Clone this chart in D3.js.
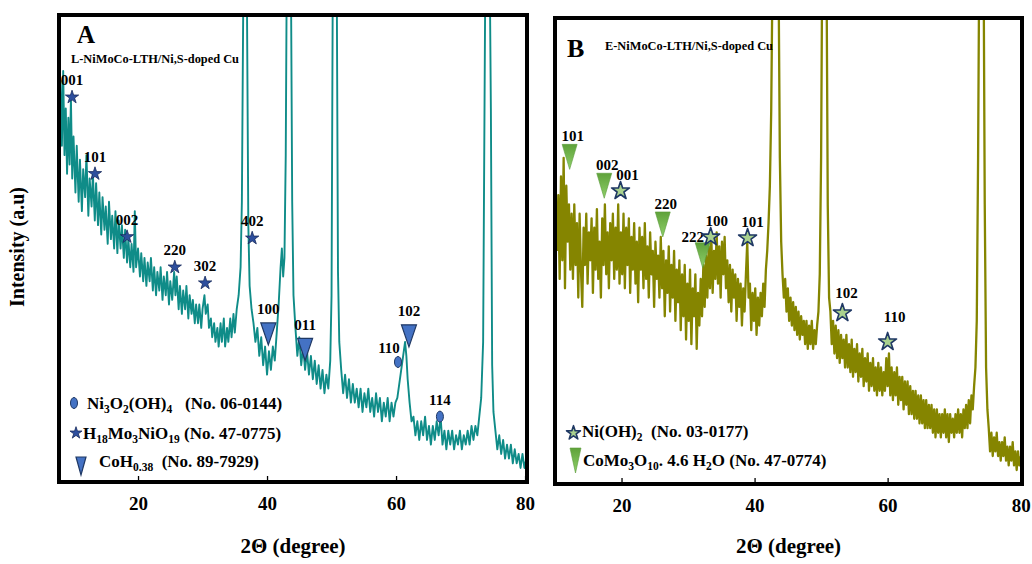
<!DOCTYPE html>
<html>
<head>
<meta charset="utf-8">
<script src="https://cdn.jsdelivr.net/npm/d3@7"></script>
<style>
  body { margin: 0; background: #fff; }
  svg { display: block; font-family: "Liberation Serif", "Times New Roman", serif; font-weight: bold; }
</style>
</head>
<body>
<svg id="chart" width="1032" height="564"></svg>
<script>
// XRD pattern A: [2theta, intensity (a.u.)]
const patternA = [
  [8.0,86],[8.2,72],[8.4,88],[8.6,70],[8.8,80],[9.0,66],[9.2,78],[9.4,68],[9.6,82],[9.8,65],[10.0,74],
  [10.3,62],[10.5,72],[10.8,60],[11.0,69],[11.3,58],[11.5,67],[11.8,61],[12.0,70],[12.3,57],[12.5,65],[12.8,59],
  [13.0,66],[13.3,56],[13.5,64],[13.8,55],[14.0,62],[14.3,53],[14.5,61],[14.8,54],[15.0,59],[15.3,51],[15.5,60],
  [15.8,52],[16.0,57],[16.3,50],[16.5,58],[16.8,49],[17.0,56],[17.3,50],[17.5,55],[17.8,48],
  [18.0,54],[18.3,47],[18.5,52],[18.8,46],[19.0,51],[19.3,45],[19.5,58],[19.7,46],[20.0,50],[20.3,44],[20.5,49],
  [20.8,43],[21.0,48],[21.3,42],[21.5,47],[21.8,43],[22.0,48],[22.3,41],[22.5,46],[22.8,40],[23.0,45],[23.3,41],
  [23.5,46],[23.8,39],[24.0,44],[24.3,40],[24.5,45],[24.8,38],
  [25.0,43],[25.3,39],[25.6,45],[25.8,40],[26.0,44],[26.3,37],[26.5,42],[26.8,36],[27.0,41],[27.3,37],[27.5,42],
  [27.8,35],[28.0,40],[28.3,36],[28.5,39],[28.8,34],[29.0,38],[29.3,34],[29.5,38],[29.8,33],[30.0,37],[30.3,40],
  [30.5,36],[30.8,38],[31.0,33],
  [31.3,35],[31.5,31],[31.8,34],[32.0,30],[32.3,33],[32.5,29],[32.8,34],[33.0,30],[33.3,35],[33.5,29],[33.8,33],
  [34.0,30],[34.3,35],[34.5,31],[34.8,36],[35.0,32],[35.3,37],
  [35.6,40],[35.9,46],[36.1,60],[36.3,100],[36.5,130],[36.7,130],[36.9,100],[37.1,55],[37.3,42],[37.6,37],
  [37.9,34],[38.2,30],[38.5,33],[38.8,27],[39.1,31],[39.4,25],[39.7,29],[40.0,23],[40.3,28],[40.6,24],[40.9,29],
  [41.2,26],[41.5,32],[41.8,38],[42.1,46],[42.3,50],[42.5,44],[42.7,48],[42.9,70],[43.1,120],[43.4,130],[43.7,110],
  [43.9,60],[44.1,40],
  [44.4,33],[44.7,27],[45.0,31],[45.3,25],[45.6,29],[45.9,24],[46.2,28],[46.5,23],[46.8,27],[47.1,22],[47.4,26],
  [47.7,21],[48.0,25],[48.3,20],[48.6,24],[48.9,19],[49.2,23],[49.5,20],[49.8,26],[50.0,40],[50.2,110],[50.5,130],
  [50.8,110],[51.0,45],[51.2,30],
  [51.5,24],[51.8,19],[52.1,23],[52.4,18],[52.7,22],[53.0,17],[53.3,21],[53.6,17],[53.9,20],[54.2,16],[54.5,20],
  [54.8,15],[55.1,19],[55.4,16],[55.7,20],[56.0,15],[56.3,18],[56.6,14],[56.9,19],[57.2,15],[57.5,18],[57.8,13],
  [58.1,17],[58.4,14],[58.7,18],[59.0,13],[59.3,17],[59.6,14],
  [59.9,17],[60.2,18],[60.5,21],[60.8,24],[61.1,27],[61.4,30],[61.6,27],[61.8,22],[62.1,17],[62.4,13],
  [62.7,14],[63.0,10],[63.3,13],[63.6,9],[63.9,13],[64.2,10],[64.5,14],[64.8,9],[65.1,12],[65.4,8],[65.7,12],
  [66.0,9],[66.3,13],[66.6,10],[66.9,14],[67.2,8],[67.5,11],[67.8,7],[68.1,11],[68.4,8],[68.7,11],[69.0,7],
  [69.3,10],[69.6,8],[69.9,11],[70.2,7],[70.5,10],[70.8,8],[71.1,11],[71.4,8],[71.7,12],[72.0,9],[72.3,12],
  [72.6,10],[72.9,14],[73.2,18],[73.5,30],[73.8,100],[74.1,130],[74.4,130],[74.7,80],[74.9,25],[75.1,15],
  [75.4,11],[75.7,7],[76.0,10],[76.3,6],[76.6,9],[76.9,5],[77.2,8],[77.5,5],[77.8,8],[78.1,4],[78.4,7],
  [78.7,4],[79.0,6],[79.3,3],[79.6,6],[79.9,3],[80.2,5]
];

// XRD pattern B: [2theta, intensity (a.u.)]
const patternB = [
  [10.3,50],[10.5,62],[10.7,44],[10.9,66],[11.1,48],[11.3,70],[11.5,42],[11.7,64],[11.9,52],[12.1,60],[12.3,46],
  [12.5,58],[12.7,44],[12.9,60],[13.1,47],[13.3,56],[13.5,40],[13.7,58],[13.9,46],[14.1,38],[14.3,55],[14.5,47],
  [14.7,58],[14.9,43],[15.1,54],[15.3,48],[15.5,57],[15.7,41],[15.9,55],[16.1,46],[16.3,59],[16.5,44],[16.7,52],
  [16.9,40],[17.1,57],[17.3,47],[17.5,60],[17.7,45],[17.9,54],[18.1,42],[18.3,56],[18.5,48],[18.7,58],[18.9,44],
  [19.1,55],[19.3,46],[19.5,60],[19.7,43],
  [19.9,54],[20.1,45],[20.3,58],[20.5,42],[20.7,55],[20.9,47],[21.1,57],[21.3,41],[21.5,53],[21.7,46],[21.9,56],
  [22.1,43],[22.3,52],[22.5,39],[22.7,55],[22.9,46],[23.1,53],[23.3,42],[23.5,56],[23.7,44],[23.9,51],[24.1,40],
  [24.3,54],[24.5,45],[24.7,50],[24.9,38],[25.1,52],[25.3,44],[25.5,49],[25.7,40],[25.9,53],
  [26.1,42],[26.3,50],[26.5,36],[26.7,48],[26.9,41],[27.1,51],[27.3,37],[27.5,47],[27.7,40],[27.9,50],[28.1,35],
  [28.3,46],[28.5,39],[28.7,48],[28.9,33],
  [29.1,45],[29.3,36],[29.5,47],[29.7,31],[29.9,43],[30.1,35],[30.3,46],[30.5,30],[30.7,42],[30.9,36],[31.1,45],
  [31.3,29],[31.5,41],[31.7,34],[31.9,44],[32.1,36],
  [32.3,47],[32.5,38],[32.7,49],[32.9,40],[33.1,51],[33.3,42],[33.5,53],[33.7,41],[33.9,50],[34.1,44],[34.3,54],
  [34.5,43],[34.7,51],[34.9,40],[35.1,52],[35.3,45],[35.5,53],[35.7,42],
  [35.9,48],[36.1,39],[36.3,47],[36.5,37],[36.7,46],[36.9,40],[37.1,45],[37.3,35],[37.5,44],[37.7,38],[37.9,43],
  [38.1,34],[38.3,42],[38.5,37],[38.7,45],[38.9,52],[39.1,40],
  [39.3,43],[39.5,33],[39.7,41],[39.9,35],[40.1,42],[40.3,32],[40.5,40],[40.7,34],[40.9,41],[41.1,36],[41.3,43],
  [41.5,38],[41.7,46],[41.9,50],[42.1,56],[42.3,64],[42.5,80],[42.7,110],[43.0,130],[43.3,130],[43.6,110],
  [43.8,70],[44.0,52],[44.2,45],
  [44.4,40],[44.6,44],[44.8,37],[45.0,42],[45.2,35],[45.4,40],[45.6,34],[45.8,39],[46.0,33],[46.2,38],[46.4,32],
  [46.6,37],[46.8,31],[47.0,36],[47.2,32],[47.4,35],[47.6,30],[47.8,35],[48.0,29],[48.2,34],[48.4,30],[48.6,35],
  [48.8,29],[49.0,33],[49.2,30],[49.4,34],[49.6,37],[49.8,45],[50.0,70],[50.2,120],[50.5,130],[50.8,115],
  [51.0,60],[51.2,40],
  [51.4,37],[51.6,30],[51.8,35],[52.0,28],[52.2,34],[52.4,27],[52.6,33],[52.8,26],[53.0,32],[53.2,27],[53.4,31],
  [53.6,25],[53.8,32],[54.0,25],[54.2,30],[54.4,24],[54.6,31],[54.8,23],[55.0,29],[55.2,24],[55.4,30],[55.6,22],
  [55.8,28],[56.0,23],[56.2,29],[56.4,21],[56.6,27],[56.8,22],[57.0,28],[57.2,20],[57.4,26],[57.6,21],[57.8,27],
  [58.0,20],[58.2,25],[58.4,19],[58.6,26],[58.8,20],[59.0,25],[59.2,19],[59.4,24],[59.6,20],[59.8,27],
  [60.0,21],[60.2,28],[60.4,19],[60.6,25],[60.8,18],[61.0,24],[61.2,19],[61.4,25],[61.6,17],[61.8,23],[62.0,18],
  [62.2,23],[62.4,16],[62.6,22],[62.8,17],[63.0,22],[63.2,15],[63.4,21],[63.6,15],[63.8,20],[64.0,14],[64.2,20],
  [64.4,14],[64.6,19],[64.8,13],[65.0,19],[65.2,13],[65.4,18],[65.6,12],[65.8,18],[66.0,12],[66.2,17],[66.4,12],
  [66.6,17],[66.8,11],[67.0,16],[67.2,10],[67.4,16],[67.6,11],[67.8,15],[68.0,10],[68.2,15],[68.4,11],[68.6,16],
  [68.8,10],[69.0,15],[69.2,9],[69.4,15],[69.6,11],[69.8,14],[70.0,10],[70.2,15],[70.4,11],[70.6,16],[70.8,11],
  [71.0,15],[71.2,10],[71.4,16],[71.6,12],[71.8,17],[72.0,12],[72.2,18],[72.4,13],[72.6,19],[72.8,16],[73.0,21],
  [73.2,25],[73.4,35],[73.6,70],[73.8,120],[74.1,130],[74.4,120],[74.6,60],[74.8,25],[75.0,16],
  [75.2,12],[75.4,7],[75.6,11],[75.8,6],[76.0,10],[76.2,7],[76.4,11],[76.6,6],[76.8,9],[77.0,5],[77.2,9],
  [77.4,6],[77.6,10],[77.8,5],[78.0,8],[78.2,4],[78.4,8],[78.6,5],[78.8,9],[79.0,4],[79.2,7],[79.4,3],
  [79.6,7],[79.8,4],[80.0,6]
];

const xTicks = [20, 40, 60, 80];

// peak markers: reflection label, marker type, 2theta, intensity
const markersA = [
  { label: "001", type: "star", theta: 9.77, value: 82.4 },
  { label: "101", type: "star", theta: 13.33, value: 66.0 },
  { label: "002", type: "star", theta: 18.3, value: 52.5 },
  { label: "220", type: "star", theta: 25.7, value: 46.0 },
  { label: "302", type: "star", theta: 30.4, value: 42.6 },
  { label: "402", type: "star", theta: 37.7, value: 52.2 },
  { label: "100", type: "triangle", theta: 40.2, value: 31.7 },
  { label: "011", type: "triangle", theta: 45.9, value: 28.4 },
  { label: "110", type: "ellipse", theta: 60.3, value: 25.7 },
  { label: "102", type: "triangle", theta: 62.0, value: 31.3 },
  { label: "114", type: "ellipse", theta: 66.8, value: 14.0 }
];
const markersB = [
  { label: "101", type: "triangle", theta: 12.2, value: 70.2 },
  { label: "002", type: "triangle", theta: 17.4, value: 64.0 },
  { label: "001", type: "star", theta: 19.85, value: 62.9 },
  { label: "220", type: "triangle", theta: 26.2, value: 55.7 },
  { label: "222", type: "triangle", theta: 32.2, value: 49.1 },
  { label: "100", type: "star", theta: 33.4, value: 53.0 },
  { label: "101", type: "star", theta: 38.95, value: 52.8 },
  { label: "102", type: "star", theta: 53.2, value: 36.7 },
  { label: "110", type: "star", theta: 60.0, value: 30.5 }
];

// legend entries: [text, isSubscript]
const legendA = [
  { type: "ellipse", parts: [["Ni"], ["3", 1], ["O"], ["2", 1], ["(OH)"], ["4", 1], ["   (No. 06-0144)"]] },
  { type: "star", parts: [["H"], ["18", 1], ["Mo"], ["3", 1], ["NiO"], ["19", 1], [" (No. 47-0775)"]] },
  { type: "triangle", parts: [["CoH"], ["0.38", 1], ["  (No. 89-7929)"]] }
];
const legendB = [
  { type: "star", parts: [["Ni(OH)"], ["2", 1], ["  (No. 03-0177)"]] },
  { type: "triangle", parts: [["CoMo"], ["3", 1], ["O"], ["10", 1], [". 4.6 H"], ["2", 1], ["O (No. 47-0774)"]] }
];

// layout and styling
const panels = [
  {
    key: "A", left: 59, right: 527, top: 15, bottom: 482, xDomain: [7.75, 80.3],
    color: "#0f8c88", lineWidth: 1.9, pattern: patternA, markers: markersA, legend: legendA,
    letter: "A", letterAt: [77, 43], letterSize: 25,
    subtitle: "L-NiMoCo-LTH/Ni,S-doped Cu", subtitleAt: [71, 63],
    legendRows: [
      { sx: 74, sy: 403, tx: 87, ty: 409 },
      { sx: 76, sy: 433, tx: 83, ty: 439 },
      { sx: 81, sy: 466, tx: 99, ty: 467 }
    ],
    star: { fill: "#2e4f9e", stroke: "#172a5c", width: 0.8, size: 55, legendSize: 45 },
    tri: { fill: "#4472c4", stroke: "#1f3864", width: 1.2, w: 15, h: 22, lw: 10, lh: 18 },
    ell: { fill: "#4472c4", stroke: "#1f3864", rx: 3.5, ry: 5.5 },
    labelShift: { "110": [-9, -14] }
  },
  {
    key: "B", left: 555, right: 1022, top: 18, bottom: 484, xDomain: [10, 80.2],
    color: "#858500", lineWidth: 2.3, pattern: patternB, markers: markersB, legend: legendB,
    letter: "B", letterAt: [567, 57], letterSize: 26,
    subtitle: "E-NiMoCo-LTH/Ni,S-doped Cu", subtitleAt: [605, 50],
    legendRows: [
      { sx: 573.5, sy: 433, tx: 582, ty: 437 },
      { sx: 575.5, sy: 460.5, tx: 583, ty: 466 }
    ],
    star: { fill: "#a9d18e", stroke: "#1f3864", width: 1.6, size: 100, legendSize: 60 },
    tri: { fill: "url(#greenTri)", stroke: "#5b9a3a", width: 0.6, w: 15, h: 25, lw: 11, lh: 25 },
    ell: { fill: "#70ad47", stroke: "#3d6b24", rx: 3.5, ry: 5.5 },
    labelShift: { "001": [7, -16], "222": [-10, -18], "100": [6, -16], "101star": [5, -16], "102": [4, -20], "110": [7, -25] }
  }
];

const svg = d3.select("#chart");
const defs = svg.append("defs");
const grad = defs.append("linearGradient").attr("id", "greenTri").attr("x1", 0).attr("y1", 0).attr("x2", 0).attr("y2", 1);
grad.append("stop").attr("offset", "0%").attr("stop-color", "#5fa23a");
grad.append("stop").attr("offset", "100%").attr("stop-color", "#8fd06a");

function triPath(w, h) {
  return `M${-w / 2},${-h / 2}L${w / 2},${-h / 2}L0,${h / 2}Z`;
}

function drawSymbol(g, type, p, cx, cy, legend) {
  if (type === "star") {
    g.append("path")
      .attr("d", d3.symbol(d3.symbolStar, legend ? p.star.legendSize : p.star.size)())
      .attr("transform", `translate(${cx},${cy})`)
      .attr("fill", p.star.fill).attr("stroke", p.star.stroke)
      .attr("stroke-width", p.star.width).attr("stroke-linejoin", "round");
  } else if (type === "triangle") {
    g.append("path")
      .attr("d", legend ? triPath(p.tri.lw, p.tri.lh) : triPath(p.tri.w, p.tri.h))
      .attr("transform", `translate(${cx},${cy})`)
      .attr("fill", p.tri.fill).attr("stroke", p.tri.stroke).attr("stroke-width", p.tri.width);
  } else {
    g.append("ellipse")
      .attr("cx", cx).attr("cy", cy).attr("rx", p.ell.rx).attr("ry", p.ell.ry)
      .attr("fill", p.ell.fill).attr("stroke", p.ell.stroke).attr("stroke-width", 1);
  }
}

panels.forEach(p => {
  const x = d3.scaleLinear().domain(p.xDomain).range([p.left, p.right]);
  const y = d3.scaleLinear().domain([0, 100]).range([p.bottom, p.top]);
  const g = svg.append("g");

  defs.append("clipPath").attr("id", "clip" + p.key)
    .append("rect").attr("x", p.left).attr("y", p.top)
    .attr("width", p.right - p.left).attr("height", p.bottom - p.top);

  // pattern
  const line = d3.line().x(d => x(d[0])).y(d => y(d[1]));
  g.append("path")
    .datum(p.pattern)
    .attr("clip-path", `url(#clip${p.key})`)
    .attr("d", line)
    .attr("fill", "none")
    .attr("stroke", p.color)
    .attr("stroke-width", p.lineWidth)
    .attr("stroke-linejoin", "round");

  // peak markers and labels
  p.markers.forEach(m => {
    const cx = x(m.theta), cy = y(m.value);
    drawSymbol(g, m.type, p, cx, cy, false);
    const key = p.labelShift[m.label + m.type] ? m.label + m.type : m.label;
    let shift = p.labelShift[key];
    if (!shift) shift = [0, m.type === "triangle" ? -25 : -17];
    if (p.key === "B" && m.type === "triangle" && !p.labelShift[key]) shift = [3, -21];
    g.append("text")
      .attr("x", cx + shift[0]).attr("y", cy + shift[1])
      .attr("dy", "0.35em")
      .attr("text-anchor", "middle")
      .attr("font-size", 15)
      .text(m.label);
  });

  // legend
  p.legend.forEach((entry, i) => {
    const row = p.legendRows[i];
    drawSymbol(g, entry.type, p, row.sx, row.sy, true);
    const t = g.append("text")
      .attr("x", row.tx).attr("y", row.ty)
      .attr("font-size", 17)
      .style("white-space", "pre");
    let inSub = false;
    entry.parts.forEach(([txt, sub]) => {
      const ts = t.append("tspan").text(txt);
      if (sub && !inSub) ts.attr("dy", 4);
      if (!sub && inSub) ts.attr("dy", -4);
      if (sub) ts.attr("font-size", 11.5);
      inSub = !!sub;
    });
  });

  // x axis with inward ticks
  const axis = g.append("g")
    .attr("transform", `translate(0,${p.bottom})`)
    .call(d3.axisBottom(x).tickValues(xTicks).tickSize(-6).tickPadding(15).tickFormat(d3.format("d")));
  axis.select(".domain").remove();
  axis.selectAll(".tick line").attr("stroke", "#000").attr("stroke-width", 1.3);
  axis.selectAll(".tick text")
    .attr("font-size", 19).attr("font-weight", "bold")
    .attr("font-family", "Liberation Serif, Times New Roman, serif")
    .attr("fill", "#000");

  // frame
  g.append("rect")
    .attr("x", p.left).attr("y", p.top)
    .attr("width", p.right - p.left).attr("height", p.bottom - p.top)
    .attr("fill", "none").attr("stroke", "#000").attr("stroke-width", 4);

  // panel letter and sample name
  g.append("text").attr("x", p.letterAt[0]).attr("y", p.letterAt[1])
    .attr("font-size", p.letterSize).text(p.letter);
  g.append("text").attr("x", p.subtitleAt[0]).attr("y", p.subtitleAt[1])
    .attr("font-size", 12).attr("textLength", 168).attr("lengthAdjust", "spacingAndGlyphs")
    .text(p.subtitle);

  // x title
  g.append("text")
    .attr("x", (p.left + p.right) / 2).attr("y", 553)
    .attr("text-anchor", "middle").attr("font-size", 21)
    .text("2\u0398 (degree)");
});

// y title
svg.append("text")
  .attr("transform", "translate(24,247) rotate(-90)")
  .attr("text-anchor", "middle")
  .attr("font-size", 20)
  .text("Intensity (a.u)");
</script>
</body>
</html>
